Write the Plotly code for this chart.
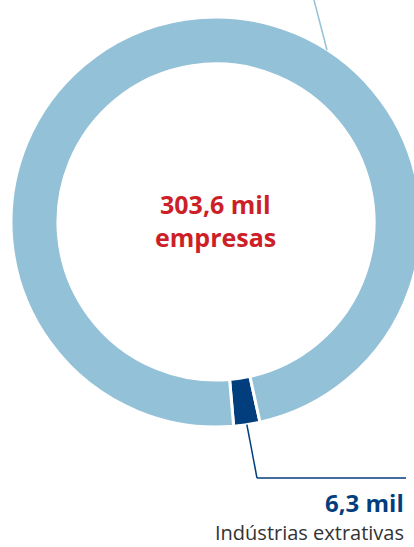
import math
import plotly.graph_objects as go

# ---- data ----
categories = ["Indústrias extrativas", "Demais setores"]
values = [6.3, 297.3]
total_label = "303,6 mil"
total_sub = "empresas"
value_labels = ["6,3 mil"]
colors = ["#023E7D", "#93C1D7"]

W, H = 432, 547
cx, cy, R = 216, 222, 205
rotation = 167.6

def px(x):
    return x / W

def py(y):
    return 1 - y / H

fig = go.Figure(go.Pie(
    labels=categories, values=values, sort=False, direction="clockwise",
    rotation=rotation, hole=0.771,
    marker=dict(colors=colors, line=dict(color="white", width=3)),
    textinfo="none", hoverinfo="label+value", showlegend=False,
    domain=dict(x=[px(cx - R), px(cx + R)], y=[py(cy + R), py(cy - R)]),
))

# leader line for the small slice, start derived from slice mid-angle
share = values[0] / sum(values)
mid = math.radians(rotation + 360 * share / 2)
sx = cx + R * math.sin(mid)
sy = cy - R * math.cos(mid)
elbow_x, elbow_y, end_x = 257, 478, 406

shapes = [
    dict(type="line", xref="paper", yref="paper", x0=px(sx), y0=py(sy),
         x1=px(elbow_x), y1=py(elbow_y), line=dict(color=colors[0], width=1.5)),
    dict(type="line", xref="paper", yref="paper", x0=px(elbow_x), y0=py(elbow_y),
         x1=px(end_x), y1=py(elbow_y), line=dict(color=colors[0], width=1.5)),
    # leader for the large slice (label off-canvas above)
    dict(type="line", xref="paper", yref="paper", x0=px(314), y0=py(0),
         x1=px(327), y1=py(50), line=dict(color=colors[1], width=1.5)),
]

font_b = "Open Sans"
annotations = [
    dict(text="<b>" + total_label + "</b>", x=px(cx - 1), y=py(204), xref="paper", yref="paper",
         showarrow=False, xanchor="center", yanchor="middle",
         font=dict(family=font_b, size=25, color="#CC1F27")),
    dict(text="<b>" + total_sub + "</b>", x=px(cx - 1), y=py(237), xref="paper", yref="paper",
         showarrow=False, xanchor="center", yanchor="middle",
         font=dict(family=font_b, size=25, color="#CC1F27")),
    dict(text="<b>" + value_labels[0] + "</b>", x=px(end_x), y=py(502), xref="paper", yref="paper",
         showarrow=False, xanchor="right", yanchor="middle",
         font=dict(family=font_b, size=24, color=colors[0])),
    dict(text=categories[0], x=px(end_x - 1), y=py(532.5), xref="paper", yref="paper",
         showarrow=False, xanchor="right", yanchor="middle", borderpad=0,
         font=dict(family=font_b, size=20, color="#333333")),
]

fig.update_layout(
    width=W, height=H, margin=dict(l=0, r=0, t=0, b=0),
    paper_bgcolor="white", plot_bgcolor="white",
    shapes=shapes, annotations=annotations,
)

fig.write_html("out.html", post_script="document.body.style.overflow='hidden';document.body.style.margin='0';")
